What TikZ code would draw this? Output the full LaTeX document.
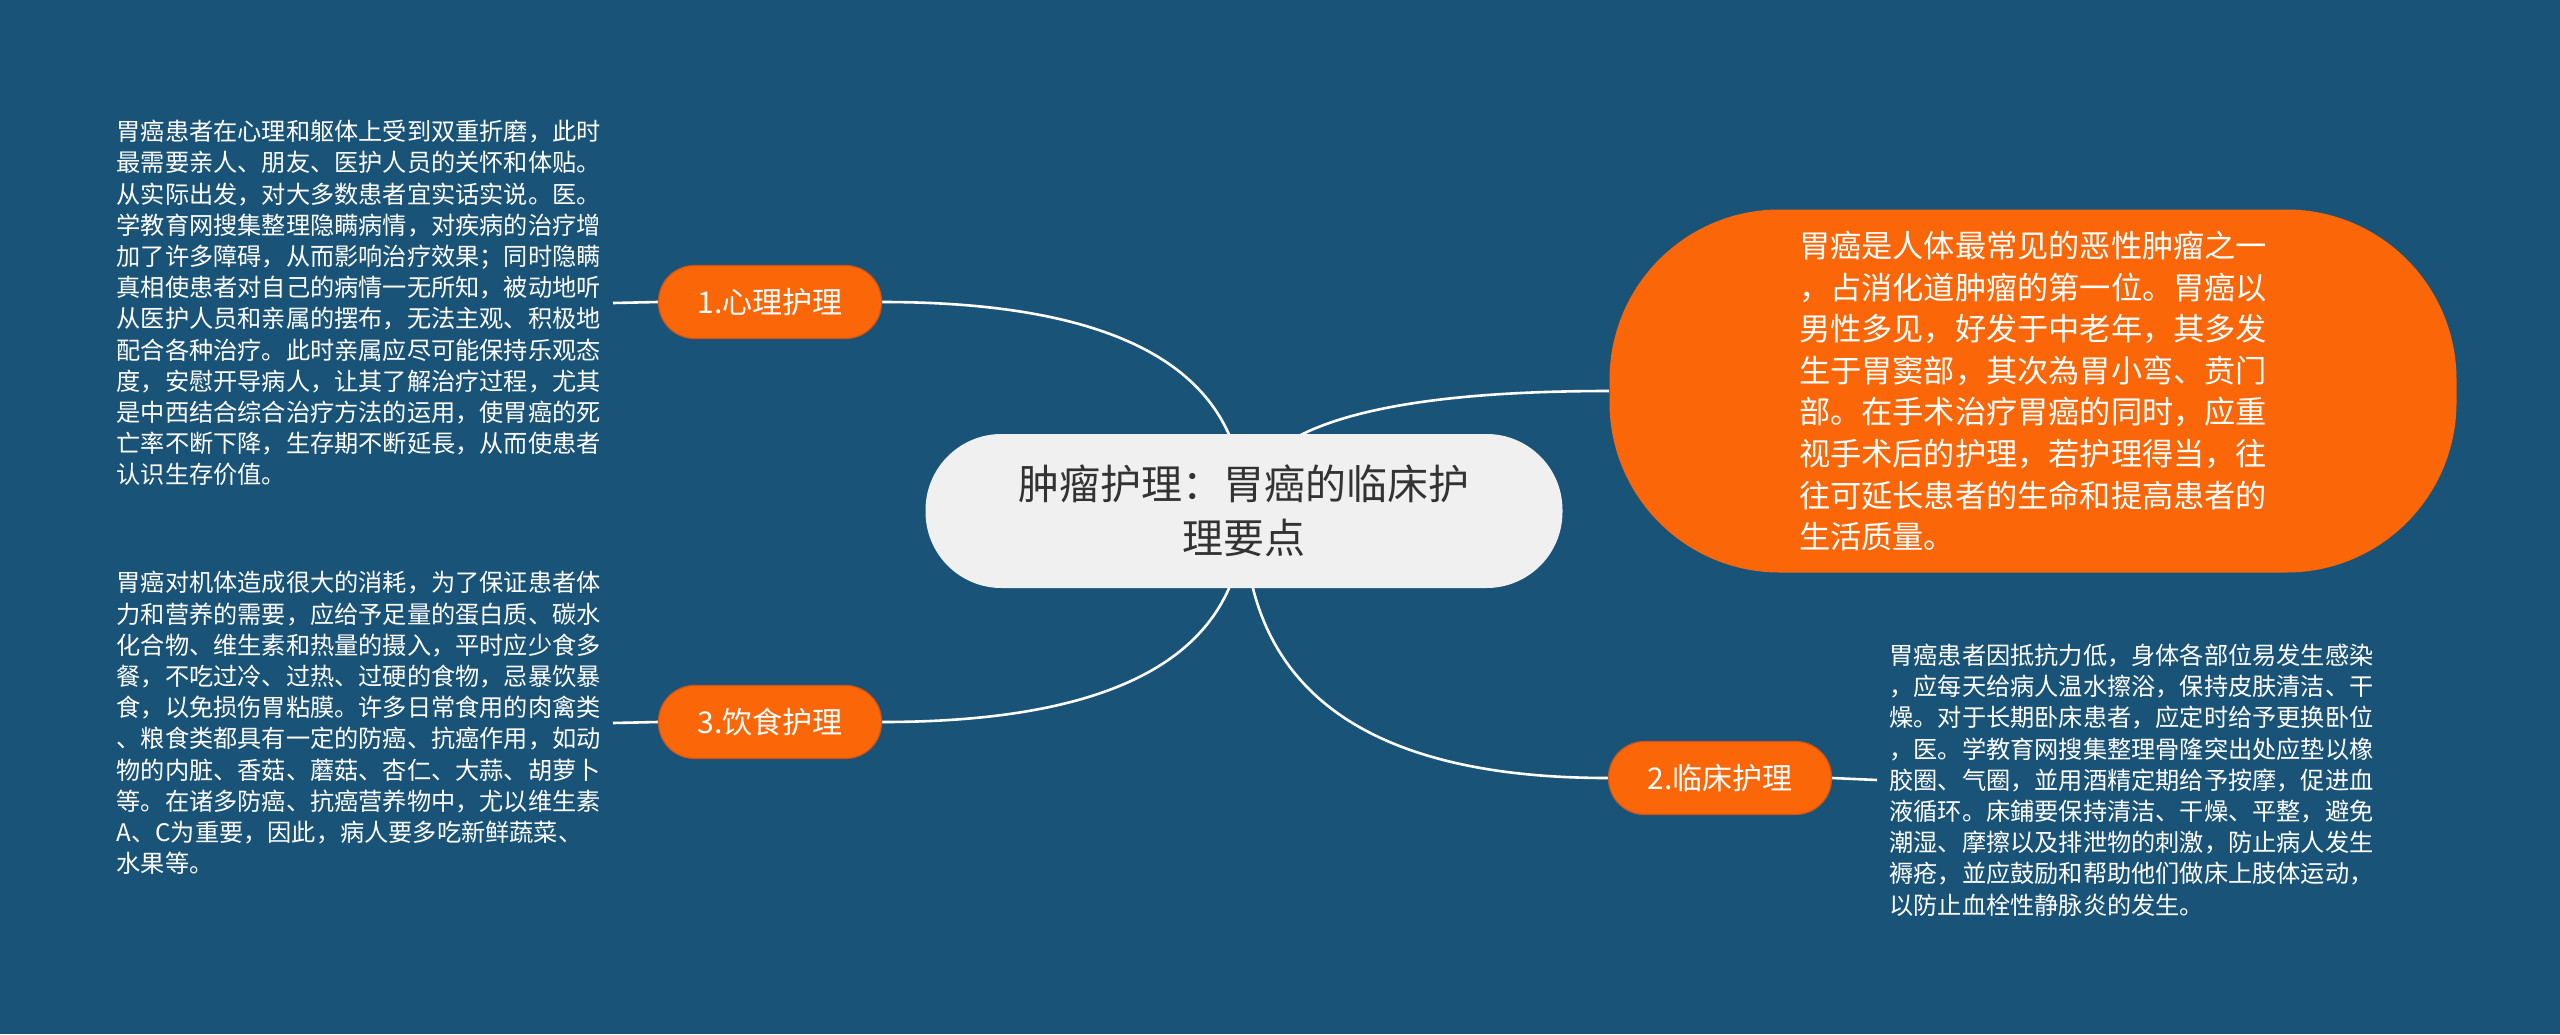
\documentclass[tikz,border=0pt]{standalone}
\usepackage{fontspec}
\setmainfont{Noto Sans CJK SC}
\usetikzlibrary{calc}
\definecolor{bgblue}{RGB}{26,83,120}
\definecolor{orng}{RGB}{250,102,8}
\definecolor{orngdark}{RGB}{205,85,25}
\definecolor{centfill}{RGB}{240,240,240}
\definecolor{centtext}{RGB}{51,51,51}
\pgfdeclarelayer{bglayer}
\pgfdeclarelayer{linelayer}
\pgfsetlayers{bglayer,linelayer,main}
\begin{document}
\begin{tikzpicture}[x=0.5pt,y=-0.5pt,
  conn/.style={draw=white, line width=1.3pt},
  mainbox/.style={fill=centfill, rounded corners=38pt, minimum width=318.5pt, minimum height=77pt, inner sep=0pt, text=centtext, align=center, font=\fontsize{20.5pt}{27pt}\selectfont},
  blob/.style={fill=orng, rounded corners=85pt, minimum width=423.5pt, minimum height=181.5pt, inner sep=0pt, text=white, align=left, font=\fontsize{15.6pt}{20.8pt}\selectfont},
  branch/.style={fill=orng, draw=orngdark, line width=0.6pt, rounded corners=18pt, minimum width=111.5pt, minimum height=36.5pt, inner sep=0pt, text=white, font=\fontsize{15pt}{18pt}\selectfont},
  note/.style={text=white, align=left, inner xsep=6pt, inner ysep=0pt, font=\fontsize{12.1pt}{15.6pt}\selectfont},
]
\useasboundingbox (0,0) rectangle (2560,1034);
\begin{pgfonlayer}{bglayer}
\fill[bgblue] (0,0) rectangle (2560,1034);
\end{pgfonlayer}

\node[mainbox] (c) at (1244,511) {肿瘤护理：胃癌的临床护\\理要点};

\node[blob] (b) at (2033,391) {胃癌是人体最常见的恶性肿瘤之一\\，占消化道肿瘤的第一位。胃癌以\\男性多见，好发于中老年，其多发\\生于胃窦部，其次為胃小弯、贲门\\部。在手术治疗胃癌的同时，应重\\视手术后的护理，若护理得当，往\\往可延长患者的生命和提高患者的\\生活质量。};

\node[branch] (n1) at (770,302) {1.心理护理};
\node[branch] (n2) at (1720,778) {2.临床护理};
\node[branch] (n3) at (770,722) {3.饮食护理};

\node[note, anchor=east] (t1) at (613,303) {胃癌患者在心理和躯体上受到双重折磨，此时\\最需要亲人、朋友、医护人员的关怀和体贴。\\从实际出发，对大多数患者宜实话实说。医。\\学教育网搜集整理隐瞒病情，对疾病的治疗增\\加了许多障碍，从而影响治疗效果；同时隐瞒\\真相使患者对自己的病情一无所知，被动地听\\从医护人员和亲属的摆布，无法主观、积极地\\配合各种治疗。此时亲属应尽可能保持乐观态\\度，安慰开导病人，让其了解治疗过程，尤其\\是中西结合综合治疗方法的运用，使胃癌的死\\亡率不断下降，生存期不断延長，从而使患者\\认识生存价值。};

\node[note, anchor=east] (t3) at (613,723) {胃癌对机体造成很大的消耗，为了保证患者体\\力和营养的需要，应给予足量的蛋白质、碳水\\化合物、维生素和热量的摄入，平时应少食多\\餐，不吃过冷、过热、过硬的食物，忌暴饮暴\\食，以免损伤胃粘膜。许多日常食用的肉禽类\\、粮食类都具有一定的防癌、抗癌作用，如动\\物的内脏、香菇、蘑菇、杏仁、大蒜、胡萝卜\\等。在诸多防癌、抗癌营养物中，尤以维生素\\A、C为重要，因此，病人要多吃新鲜蔬菜、\\水果等。};

\node[note, anchor=west] (t2) at (1877,780) {胃癌患者因抵抗力低，身体各部位易发生感染\\，应每天给病人温水擦浴，保持皮肤清洁、干\\燥。对于长期卧床患者，应定时给予更换卧位\\，医。学教育网搜集整理骨隆突出处应垫以橡\\胶圈、气圈，並用酒精定期给予按摩，促进血\\液循环。床鋪要保持清洁、干燥、平整，避免\\潮湿、摩擦以及排泄物的刺激，防止病人发生\\褥疮，並应鼓励和帮助他们做床上肢体运动，\\以防止血栓性静脉炎的发生。};

\begin{pgfonlayer}{linelayer}
\draw[conn] (c.center) .. controls ($(c.center)!0.667!(c.center |- n1.east)$) and ($(n1.east)!0.667!(c.center |- n1.east)$) .. (n1.east);
\draw[conn] (c.center) .. controls ($(c.center)!0.667!(c.center |- n3.east)$) and ($(n3.east)!0.667!(c.center |- n3.east)$) .. (n3.east);
\draw[conn] (c.center) .. controls ($(c.center)!0.667!(c.center |- n2.west)$) and ($(n2.west)!0.667!(c.center |- n2.west)$) .. (n2.west);
\draw[conn] (c.center) .. controls ($(c.center)!0.667!(c.center |- b.west)$) and ($(b.west)!0.667!(c.center |- b.west)$) .. (b.west);
\draw[conn] (n1.west) -- (t1.east);
\draw[conn] (n3.west) -- (t3.east);
\draw[conn] (n2.east) -- (t2.west);
\end{pgfonlayer}
\end{tikzpicture}
\end{document}
